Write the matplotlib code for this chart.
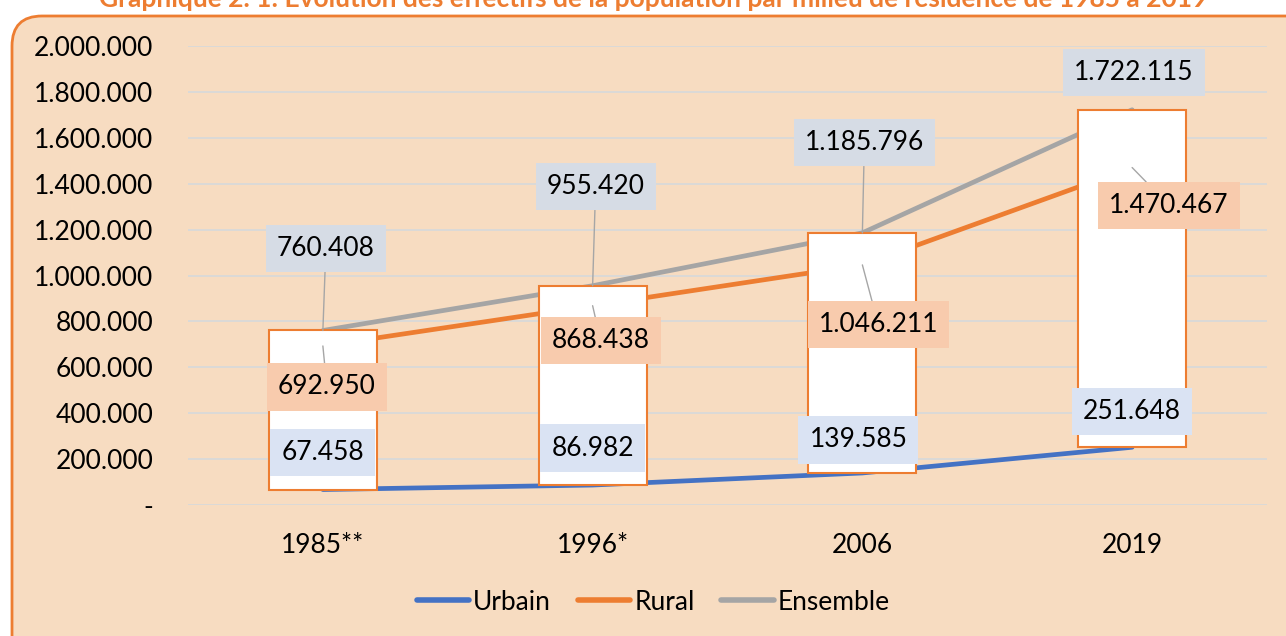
import matplotlib.pyplot as plt
from matplotlib.patches import FancyBboxPatch
from matplotlib.transforms import IdentityTransform
from matplotlib.ticker import FuncFormatter

plt.rcParams['font.family'] = ['Lato', 'DejaVu Sans']

# Data
years = ["1985**", "1996*", "2006", "2019"]
urbain = [67458, 86982, 139585, 251648]
rural = [692950, 868438, 1046211, 1470467]
ensemble = [760408, 955420, 1185796, 1722115]

# label offsets from the data point, in pixels (dx, dy)
off_urbain = [(0, 37), (0, 37), (-4, 33), (0, 36)]
off_rural = [(4, -41), (8, -35), (16, -60), (37, -38)]
off_ensemble = [(3, 82), (3, 99), (2, 90), (2, 37)]

BLUE = '#4472C4'
ORANGE = '#ED7D31'
GRAY = '#A5A5A5'
PEACH = '#F7DCC1'


def fmt(v):
    return f"{v:,.0f}".replace(",", ".")


fig = plt.figure(figsize=(12.86, 6.36), dpi=100)
fig.patch.set_facecolor('white')

# rounded chart frame
frame = FancyBboxPatch((12, -40), 1320, 660, boxstyle="round,pad=0,rounding_size=30",
                       transform=IdentityTransform(), facecolor=PEACH,
                       edgecolor=ORANGE, linewidth=2, zorder=0)
fig.add_artist(frame)

fig.text(0.508, 1 - 7 / 636,
         "Graphique 2. 1: Evolution des effectifs de la population par milieu de résidence de 1985 à 2019",
         ha='center', va='baseline', fontsize=19, fontweight='bold', color=ORANGE)

ax = fig.add_axes([188 / 1286, 131 / 636, 1079 / 1286, 459 / 636])
ax.set_facecolor('none')
x = range(len(years))

ax.plot(x, urbain, color=BLUE, lw=3.4, solid_capstyle='round', zorder=2, label='Urbain')
ax.plot(x, rural, color=ORANGE, lw=3.4, solid_capstyle='round', zorder=2, label='Rural')
ax.plot(x, ensemble, color=GRAY, lw=3.4, solid_capstyle='round', zorder=2, label='Ensemble')

# up bars between urbain and ensemble
ax.bar(x, [e - u for e, u in zip(ensemble, urbain)], bottom=urbain, width=0.4,
       facecolor='white', edgecolor=ORANGE, linewidth=1.5, zorder=3)

ax.set_xlim(-0.5, len(years) - 0.5)
ax.set_ylim(0, 2000000)
ax.set_yticks(range(0, 2000001, 200000))
ax.yaxis.set_major_formatter(FuncFormatter(lambda v, p: "-" if v == 0 else fmt(v)))
ax.set_xticks(list(x))
ax.set_xticklabels(years)
ax.tick_params(axis='y', length=0, pad=25, labelsize=19)
ax.tick_params(axis='x', length=0, pad=20, labelsize=19)
ax.grid(axis='y', color='#D9D9D9', lw=1.3, zorder=1)
for s in ax.spines.values():
    s.set_visible(False)


def labels(values, offsets, bg, leader):
    for i, (v, (dx, dy)) in enumerate(zip(values, offsets)):
        arrow = None
        if leader[i]:
            arrow = dict(arrowstyle='-', color='#A6A6A6', lw=1, shrinkA=0, shrinkB=0)
        ax.annotate(fmt(v), (i, v), xytext=(dx, dy), textcoords='offset pixels',
                    ha='center', va='center', fontsize=19, zorder=6,
                    bbox=dict(boxstyle='square,pad=0.42', fc=bg, ec='none'),
                    arrowprops=arrow)


labels(urbain, off_urbain, '#DAE3F3', [False] * 4)
labels(rural, off_rural, '#F8CBAD', [True] * 4)
labels(ensemble, off_ensemble, '#D6DCE5', [True, True, True, False])

leg = fig.legend(loc='center', bbox_to_anchor=(0.508, 1 - 602 / 636), ncol=3, frameon=False,
                 fontsize=19, handlelength=2.0, handletextpad=0.15, columnspacing=1.0)
for h in leg.get_lines():
    h.set_linewidth(4)
    h.set_solid_capstyle('round')

fig.savefig('out.png', dpi=100)
